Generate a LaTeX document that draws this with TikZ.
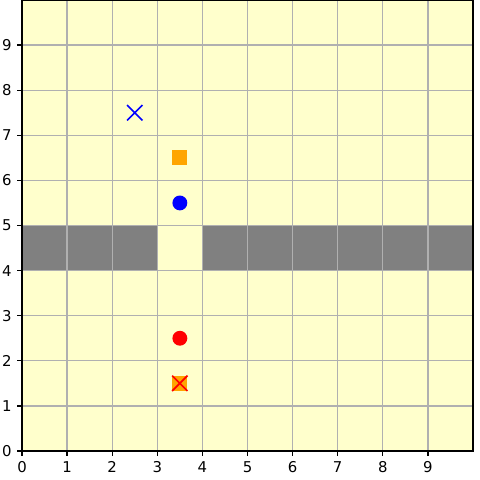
\documentclass[tikz,border=0pt]{standalone}
\usepackage{fontspec}
\setmainfont{DejaVu Sans}
\usepackage{tikz}
\usetikzlibrary{shapes}
\definecolor{cellbg}{RGB}{255, 255, 204}
\definecolor{wall}{RGB}{128, 128, 128}
\definecolor{gridgray}{RGB}{176, 176, 176}
\definecolor{goal}{RGB}{255, 165, 0}

\begin{document}
\begin{tikzpicture}[
   x=1cm, y=1cm,
   gridline/.style={color=gridgray, line width=0.8pt},
   wallcell/.style={fill=wall, draw=none},
   dotmark/.style={circle, inner sep=0, minimum size=0.33cm},
   boxmark/.style={rectangle, fill=goal, inner sep=0, minimum size=0.33cm},
   crossmark/.style={cross out, draw, line width=1.1pt, inner sep=0,
                     minimum size=0.30cm},
   ticklabel/.style={font=\fontsize{9.4}{11}\selectfont, inner sep=0}
  ]

  % Tick length and label offset
  \pgfmathsetmacro{\t}{0.108}
  \pgfmathsetmacro{\p}{0.222}

  \useasboundingbox (-0.488, -0.643) rectangle (10.155, 10);

  \fill[cellbg] (0, 0) rectangle (10, 10);
  \fill[wallcell] (0, 4) rectangle (3, 5);
  \fill[wallcell] (4, 4) rectangle (10, 5);

  \foreach \i in {1, ..., 9} {
    \draw[gridline] (\i, 0) -- (\i, 10);
    \draw[gridline] (0, \i) -- (10, \i);
  }

  \node (G1) at (3.5, 6.5) [boxmark] {};
  \node (G2) at (3.5, 1.5) [boxmark] {};
  \node (A1) at (3.5, 5.5) [dotmark, fill=blue] {};
  \node (A2) at (3.5, 2.5) [dotmark, fill=red] {};
  \node (T1) at (2.5, 7.5) [crossmark, draw=blue] {};
  \node (T2) at (3.5, 1.5) [crossmark, draw=red] {};

  \draw[black, line width=0.8pt] (0, 0) rectangle (10, 10);

  \foreach \i in {0, ..., 9} {
    \draw[black, line width=0.8pt] (\i, 0) -- (\i, -\t);
    \draw[black, line width=0.8pt] (0, \i) -- (-\t, \i);
    \node (X\i) at (\i, -\p) [ticklabel, anchor=north] {\i};
    \node (Y\i) at (-\p, \i) [ticklabel, anchor=east] {\i};
  }

\end{tikzpicture}
\end{document}
